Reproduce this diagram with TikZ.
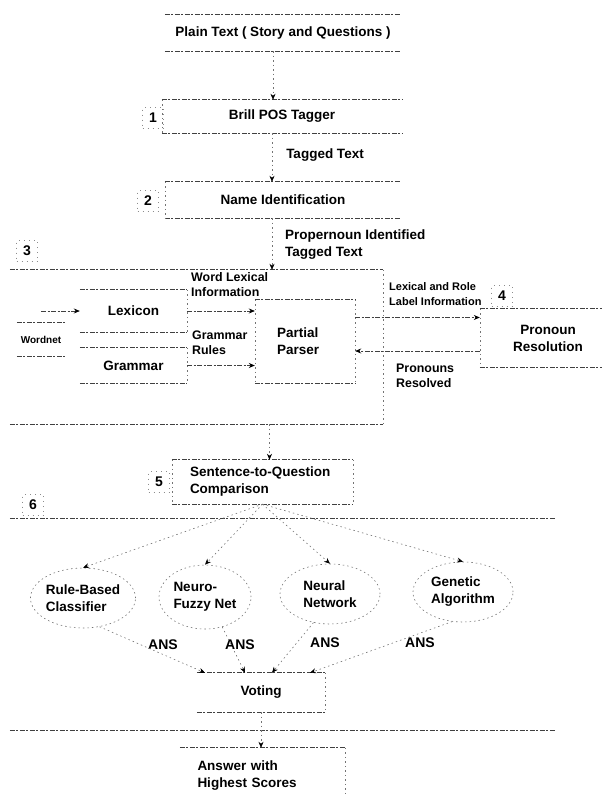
\documentclass[tikz,border=0pt]{standalone}
\usepackage{fontspec}
\setmainfont{Liberation Sans}
\usetikzlibrary{positioning, arrows.meta, shapes.geometric}
\tikzset{
>={Stealth[length=6pt, width=5pt, black]}, % small filled heads as in the scan
dline/.style={draw=black!75, line width=0.7pt, dash pattern=on 5pt off 1.5pt on 2pt off 1.5pt}, % broken box edges
faint/.style={draw=black!55, line width=0.6pt, dash pattern=on 1.5pt off 3pt}, % nearly lost lines
every node/.style={font=\bfseries\fontsize{13.5}{17}\selectfont, inner sep=0pt, align=left},
side/.style={font=\bfseries\fontsize{12.4}{15}\selectfont},
num/.style={font=\bfseries\fontsize{14}{17}\selectfont, draw=black!45, line width=0.5pt, dash pattern=on 1pt off 4pt, minimum size=21pt},
classifier/.style={ellipse, faint, minimum width=100pt, minimum height=60pt},
ans/.style={font=\bfseries\fontsize{14}{17}\selectfont},
}
\begin{document}
\begin{tikzpicture}[x=1pt, y=-1pt]
\useasboundingbox (0,0) rectangle (602,795);

% input and the first two steps
\node[minimum width=236pt, minimum height=36pt] (plain) at (283,33) {Plain Text ( Story and Questions )};
\node[minimum width=240pt, minimum height=33pt] (brill) at (282,116.5) {Brill POS Tagger};
\node[num] (n1) at (153,118) {1};
\node (tagged) at (325,155) {Tagged Text};
\node[minimum width=236pt, minimum height=36pt] (name) at (283,200) {Name Identification};
\node[num] (n2) at (148,201) {2};
\node[anchor=west] (proper) at (285,245) {Propernoun Identified\\Tagged Text};

% step 3: parsing
\node[num] (n3) at (27,251) {3};
\node[minimum width=373pt, minimum height=154pt] (stage3) at (196.5,347) {};
\node[minimum width=107pt, minimum height=42pt] (lexicon) at (133.5,311) {Lexicon};
\node[minimum width=107pt, minimum height=35pt] (grammar) at (133.5,365.5) {Grammar};
\node[minimum width=48pt, minimum height=33pt, font=\bfseries\fontsize{10}{12}\selectfont] (wordnet) at (41,339.5) {Wordnet};
\node[side, anchor=west] (wordlex) at (191,285) {Word Lexical\\Information};
\node[side, anchor=west] (rules) at (192,342.5) {Grammar\\Rules};
\node[minimum width=100pt, minimum height=83pt, text width=56pt] (parser) at (305,341.5) {Partial\\Parser};

% step 4: pronouns
\node[anchor=west, font=\bfseries\fontsize{11}{15}\selectfont] (lexrole) at (389,294.5) {Lexical and Role\\Label Information};
\node[num] (n4) at (502,296) {4};
\node[minimum width=136pt, minimum height=58pt, align=center] (pronoun) at (548,338) {Pronoun\\Resolution};
\node[side, anchor=west] (resolved) at (396,375.5) {Pronouns\\Resolved};

% step 5
\node[minimum width=181pt, minimum height=44pt, text width=145pt] (sentence) at (262.5,482) {Sentence-to-Question\\Comparison};
\node[num] (n5) at (159,482) {5};

% step 6: classifiers and voting
\node[num] (n6) at (33,505) {6};
\node[minimum width=545pt, minimum height=211pt] (stage6) at (282.5,624.5) {};
\node[classifier] (rule) at (83,598) {Rule-Based\\Classifier};
\node[classifier, minimum width=92pt, minimum height=64pt] (fuzzy) at (205,597) {Neuro-\\Fuzzy Net};
\node[classifier] (neural) at (330,594) {Neural\\Network};
\node[classifier] (genetic) at (463,592) {Genetic\\Algorithm};
\node[ans] (ans1) at (163,645) {ANS};
\node[ans] (ans2) at (240,645) {ANS};
\node[ans] (ans3) at (325,643) {ANS};
\node[ans] (ans4) at (420,643) {ANS};
\node[minimum width=128pt, minimum height=39pt] (voting) at (261,692.5) {Voting};
\node[minimum width=165pt, minimum height=56pt, text width=130pt] (answer) at (262.5,776) {Answer with\\Highest Scores};

% box edges
\foreach \n in {plain,brill,name,lexicon,grammar,wordnet,parser,pronoun,sentence,voting,stage3,stage6}
  \draw[dline] (\n.north west) -- (\n.north east) (\n.south west) -- (\n.south east);
\draw[dline] (answer.north west) -- (answer.north east);
\foreach \n in {brill,name,sentence,parser,pronoun}
  \draw[faint] (\n.north west) -- (\n.south west);
\foreach \n in {lexicon,grammar,parser,sentence,voting,answer,stage3}
  \draw[faint] (\n.north east) -- (\n.south east);

% connectors
\draw[faint,->] ([xshift=-10pt]plain.south) -- ([xshift=-10pt]plain.south |- brill.north);
\draw[faint,->] ([xshift=-10pt]brill.south) -- ([xshift=-10pt]brill.south |- name.north);
\draw[faint,->] ([xshift=-11pt]name.south) -- ([xshift=-11pt]name.south |- stage3.north);
\draw[dline,->] (wordnet.north |- lexicon.west) -- (lexicon.west);
\draw[dline,->] (lexicon.east) -- (lexicon.east -| parser.west);
\draw[dline,->] (grammar.east) -- (grammar.east -| parser.west);
\draw[dline,->] ([yshift=24pt]parser.east) -- ([yshift=24pt]parser.east -| pronoun.west);
\draw[dline,->] ([yshift=-13pt]pronoun.west) -- ([yshift=-13pt]pronoun.west -| parser.east);
\draw[faint,->] ([xshift=7pt]sentence.north |- stage3.south) -- ([xshift=7pt]sentence.north);
\foreach \c in {rule,fuzzy,neural,genetic}
  \draw[faint,->] (sentence.south) -- (\c.north);
\draw[faint,->] (rule.-60) -- ([xshift=-56pt]voting.north);
\draw[faint,->] (fuzzy.-60) -- ([xshift=-16pt]voting.north);
\draw[faint,->] (neural.-120) -- ([xshift=11pt]voting.north);
\draw[faint,->] (genetic.-110) -- ([xshift=49pt]voting.north);
\draw[faint,->] (voting.south) -- (voting.south |- answer.north);
\end{tikzpicture}
\end{document}
